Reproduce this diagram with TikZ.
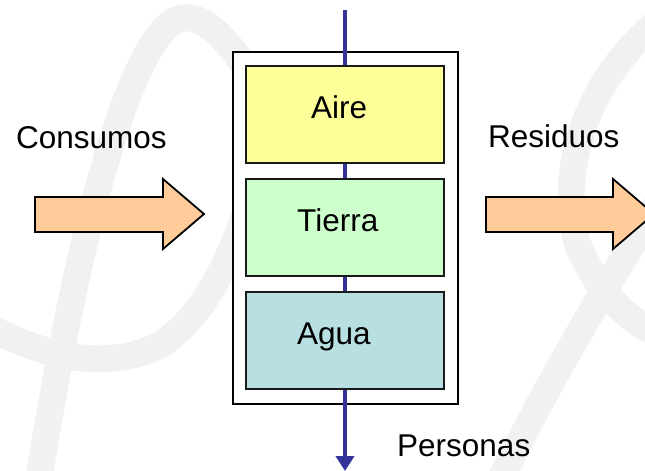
\documentclass[tikz,border=0pt]{standalone}
\usepackage{fontspec}
\setmainfont{Liberation Sans}
\usetikzlibrary{arrows.meta}
\definecolor{wm}{HTML}{F1F1F1}
\definecolor{flow}{HTML}{333399}
\definecolor{aire}{HTML}{FFFF99}
\definecolor{tierra}{HTML}{CCFFCC}
\definecolor{agua}{HTML}{B8DFE2}
\definecolor{flecha}{HTML}{FFCC99}
\tikzset{
  lbl/.style={inner sep=0pt, anchor=base west, font=\fontsize{31.5}{36}\selectfont},
  layer/.style={draw=black!90, line width=2pt, minimum width=198pt, minimum height=97pt, inner sep=0pt},
  frame/.style={draw=black, line width=2pt, fill=white},
  bigarrow/.style={draw=black, line width=1.8pt, fill=flecha, line join=miter},
  watermark/.style={draw=wm, line width=27pt, line cap=round},
  flowline/.style={draw=flow, line width=4pt, -{Triangle[width=18pt,length=15pt]}}
}
\begin{document}
\begin{tikzpicture}[x=1pt,y=-1pt]
\useasboundingbox (0,0) rectangle (645,471);
\clip (0,0) rectangle (645,471);
% watermark strokes
\draw[watermark] (38,485) .. controls (70,280) and (120,60) .. (172,22) .. controls (200,5) and (235,40) .. (275,120);
\draw[watermark] (-15,325) .. controls (50,360) and (110,370) .. (160,345) .. controls (200,320) and (225,270) .. (245,215);
\draw[watermark] (660,20) .. controls (560,100) and (560,220) .. (585,260) .. controls (600,290) and (625,320) .. (660,335);
\draw[watermark] (660,200) .. controls (610,280) and (560,360) .. (500,480);
% frame
\node[frame, minimum width=225pt, minimum height=352pt, inner sep=0pt] (frame) at (345.5,228) {};
% vertical flow line
\coordinate (top) at (345,10);
\coordinate (bot) at (345,471);
\draw[flowline] (top) -- (bot);
% layers
\node[layer, fill=aire] (aire) at (345,114.5) {};
\node[layer, fill=tierra] (tierra) at (345,227.5) {};
\node[layer, fill=agua] (agua) at (345,340.5) {};
\node[lbl] (taire) at (311,118) {Aire};
\node[lbl] (ttierra) at (297,231) {Tierra};
\node[lbl] (tagua) at (297,344) {Agua};
% side arrows
\draw[bigarrow] (35,197) -- (163,197) -- (163,179) -- (204,214) -- (163,249) -- (163,232) -- (35,232) -- cycle;
\draw[bigarrow] (486,197) -- (613,197) -- (613,179) -- (654,214) -- (613,249) -- (613,232) -- (486,232) -- cycle;
% labels
\node[lbl] (consumos) at (16,148) {Consumos};
\node[lbl] (residuos) at (488,147) {Residuos};
\node[lbl] (personas) at (397,456) {Personas};
\end{tikzpicture}
\end{document}
